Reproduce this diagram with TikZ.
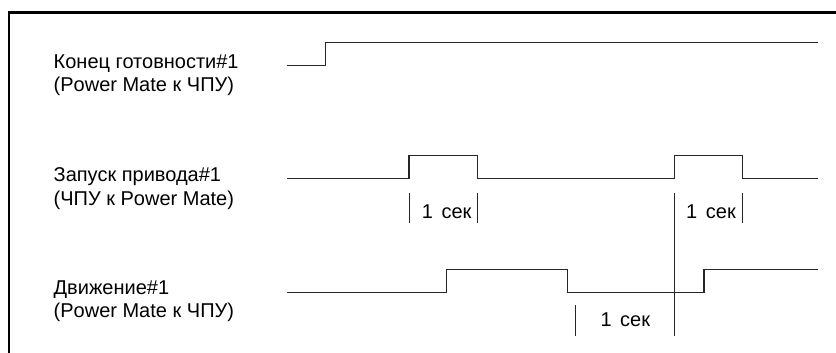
\documentclass[tikz,border=0pt]{standalone}
\usepackage{fontspec}
\setmainfont{Liberation Sans}
\begin{document}
\begin{tikzpicture}[x=1pt,y=-1pt,
  sig/.style={line width=1.1pt, black!85},
  tick/.style={line width=1pt, black!85},
  frameline/.style={line width=2.4pt, black},
  lab/.style={anchor=base west, inner sep=0pt, font=\fontsize{20}{22}\selectfont},
  sec/.style={anchor=base, inner sep=0pt, font=\fontsize{20}{22}\selectfont}]
\useasboundingbox (0,0) rectangle (836,353);
% frame
\coordinate (fbl) at (8.7,353);
\coordinate (ftl) at (8.7,12.5);
\coordinate (ftr) at (836,12.5);
\draw[frameline] (fbl) -- (ftl) -- (ftr);
% labels
\node[lab] (r1a) at (53.5,68.3) {Конец готовности\#1};
\node[lab] (r1b) at (53.5,91.7) {(Power Mate к ЧПУ)};
\node[lab] (r2a) at (53.5,181.7) {Запуск привода\#1};
\node[lab] (r2b) at (53.5,205) {(ЧПУ к Power Mate)};
\node[lab] (r3a) at (53.5,294.5) {Движение\#1};
\node[lab] (r3b) at (53.5,317) {(Power Mate к ЧПУ)};
% signal 1
\coordinate (a0) at (287,65.5);
\coordinate (a1) at (325.5,42.5);
\coordinate (a2) at (817.7,42.5);
\draw[sig] (a0) -| (a1) -- (a2);
% signal 2
\coordinate (b0) at (287,178.5);
\coordinate (b1) at (409,155.5);
\coordinate (b2) at (477.5,178.5);
\coordinate (b3) at (674.5,155.5);
\coordinate (b4) at (742.5,178.5);
\coordinate (b5) at (817.7,178.5);
\draw[sig] (b0) -| (b1) -| (b2) -| (b3) -| (b4) -- (b5);
% signal 3
\coordinate (c0) at (287,292.5);
\coordinate (c1) at (446.5,269.5);
\coordinate (c2) at (567.5,292.5);
\coordinate (c3) at (704,269.5);
\coordinate (c4) at (817.7,269.5);
\draw[sig] (c0) -| (c1) -| (c2) -| (c3) -- (c4);
% ticks row 2
\coordinate (t1a) at (409,193.3);   \coordinate (t1b) at (409,223.3);
\coordinate (t2a) at (477.5,193.3); \coordinate (t2b) at (477.5,223.3);
\coordinate (t3a) at (674.5,193.3); \coordinate (t3b) at (674.5,335.7);
\coordinate (t4a) at (742.5,193.3); \coordinate (t4b) at (742.5,223.3);
\coordinate (t5a) at (575.7,305);   \coordinate (t5b) at (575.7,335.7);
\draw[tick] (t1a) -- (t1b);
\draw[tick] (t2a) -- (t2b);
\draw[tick] (t3a) -- (t3b);
\draw[tick] (t4a) -- (t4b);
\draw[tick] (t5a) -- (t5b);
% 1 sec labels
\node[sec] (d1) at (446.7,218.5) {1\hspace{3pt} сек};
\node[sec] (d2) at (711,218.5) {1\hspace{3pt} сек};
\node[sec] (d3) at (625.3,326.7) {1\hspace{3pt} сек};
\end{tikzpicture}
\end{document}
